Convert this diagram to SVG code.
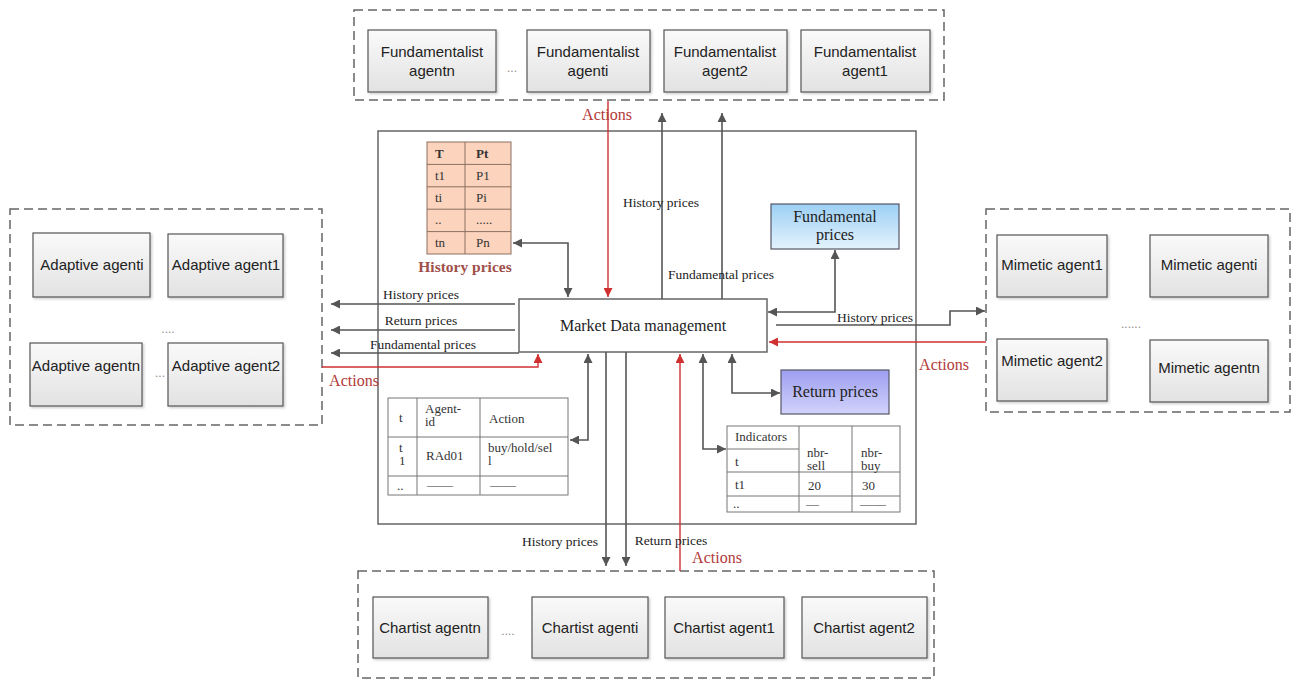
<svg xmlns="http://www.w3.org/2000/svg" width="1292" height="680" viewBox="0 0 1292 680">
<style>
.grp{fill:none;stroke:#666;stroke-width:1.5;stroke-dasharray:9,5}
.agent{fill:url(#ag);stroke:#555;stroke-width:1.2;filter:url(#sh)}
.at{font-family:"Liberation Sans",Arial,sans-serif;font-size:15px;fill:#222;text-anchor:middle}
.st{font-family:"Liberation Serif","Times New Roman",serif;font-size:13.5px;fill:#222;text-anchor:middle}
.tt{font-family:"Liberation Serif","Times New Roman",serif;font-size:13px;fill:#333}
.red{font-family:"Liberation Serif","Times New Roman",serif;font-size:16px;fill:#b23a3a;text-anchor:middle}
.dots{font-family:"Liberation Sans",Arial,sans-serif;font-size:12px;fill:#888;text-anchor:middle}
.c{fill:none;stroke:#555;stroke-width:1.6}
.cr{fill:none;stroke:#d03030;stroke-width:1.4}
.tbl{stroke:#777;stroke-width:1}
.bx{font-family:"Liberation Serif","Times New Roman",serif;font-size:16px;fill:#222;text-anchor:middle}
</style>
<defs>
<linearGradient id="ag" x1="0" y1="0" x2="0" y2="1"><stop offset="0" stop-color="#fafafa"/><stop offset="1" stop-color="#e2e2e2"/></linearGradient>
<linearGradient id="fp" x1="0" y1="0" x2="0" y2="1"><stop offset="0" stop-color="#9ccff5"/><stop offset="1" stop-color="#e4f3fd"/></linearGradient>
<linearGradient id="rp" x1="0" y1="0" x2="0" y2="1"><stop offset="0" stop-color="#9d9ef0"/><stop offset="1" stop-color="#d2d3fb"/></linearGradient>
<filter id="sh" x="-10%" y="-10%" width="130%" height="130%"><feDropShadow dx="1.5" dy="1.5" stdDeviation="1" flood-color="#000" flood-opacity="0.2"/></filter>
<marker id="ah" viewBox="0 0 10 10" refX="10" refY="5" markerWidth="11" markerHeight="9" markerUnits="userSpaceOnUse" orient="auto-start-reverse"><path d="M0,0 L10,5 L0,10 z" fill="#555"/></marker>
<marker id="ahr" viewBox="0 0 10 10" refX="10" refY="5" markerWidth="11" markerHeight="9" markerUnits="userSpaceOnUse" orient="auto-start-reverse"><path d="M0,0 L10,5 L0,10 z" fill="#d03030"/></marker>
</defs>
<rect width="1292" height="680" fill="#fff"/>

<g id="market-system">
<rect x="378" y="131" width="538" height="393" fill="none" stroke="#666" stroke-width="1.5"/>
</g>

<g id="fundamentalist-group">
<rect class="grp" x="354" y="10" width="590" height="90"/>
<g id="fund-agentn"><rect class="agent" x="368" y="30" width="128" height="62"/><text class="at" x="432" y="57">Fundamentalist</text><text class="at" x="432" y="76">agentn</text></g>
<text class="dots" x="512" y="72">...</text>
<g id="fund-agenti"><rect class="agent" x="527" y="30" width="123" height="62"/><text class="at" x="588" y="57">Fundamentalist</text><text class="at" x="588" y="76">agenti</text></g>
<g id="fund-agent2"><rect class="agent" x="664" y="30" width="123" height="62"/><text class="at" x="725" y="57">Fundamentalist</text><text class="at" x="725" y="76">agent2</text></g>
<g id="fund-agent1"><rect class="agent" x="801" y="30" width="129" height="62"/><text class="at" x="865" y="57">Fundamentalist</text><text class="at" x="865" y="76">agent1</text></g>
</g>

<g id="adaptive-group">
<rect class="grp" x="10" y="209" width="312" height="216"/>
<g id="adaptive-agenti"><rect class="agent" x="33" y="233" width="117" height="64"/><text class="at" x="92" y="270">Adaptive agenti</text></g>
<g id="adaptive-agent1"><rect class="agent" x="168" y="234" width="115" height="63"/><text class="at" x="226" y="270">Adaptive agent1</text></g>
<text class="dots" x="168" y="333">....</text>
<g id="adaptive-agentn"><rect class="agent" x="30" y="343" width="112" height="63"/><text class="at" x="86" y="371">Adaptive agentn</text></g>
<text class="dots" x="160" y="377">...</text>
<g id="adaptive-agent2"><rect class="agent" x="168" y="343" width="115" height="63"/><text class="at" x="226" y="371">Adaptive agent2</text></g>
</g>

<g id="mimetic-group">
<rect class="grp" x="986" y="209" width="304" height="203"/>
<g id="mimetic-agent1"><rect class="agent" x="997" y="235" width="110" height="62"/><text class="at" x="1052" y="270">Mimetic agent1</text></g>
<g id="mimetic-agenti"><rect class="agent" x="1150" y="235" width="118" height="62"/><text class="at" x="1209" y="270">Mimetic agenti</text></g>
<text class="dots" x="1131" y="328">......</text>
<g id="mimetic-agent2"><rect class="agent" x="997" y="339" width="110" height="62"/><text class="at" x="1052" y="366">Mimetic agent2</text></g>
<g id="mimetic-agentn"><rect class="agent" x="1150" y="340" width="118" height="62"/><text class="at" x="1209" y="373">Mimetic agentn</text></g>
</g>

<g id="chartist-group">
<rect class="grp" x="358" y="571" width="576" height="107"/>
<g id="chartist-agentn"><rect class="agent" x="373" y="597" width="115" height="61"/><text class="at" x="430" y="633">Chartist agentn</text></g>
<text class="dots" x="508" y="635">....</text>
<g id="chartist-agenti"><rect class="agent" x="532" y="597" width="116" height="61"/><text class="at" x="590" y="633">Chartist agenti</text></g>
<g id="chartist-agent1"><rect class="agent" x="665" y="597" width="119" height="61"/><text class="at" x="724" y="633">Chartist agent1</text></g>
<g id="chartist-agent2"><rect class="agent" x="802" y="597" width="125" height="61"/><text class="at" x="864" y="633">Chartist agent2</text></g>
</g>

<g id="market-data-management">
<rect x="519" y="299" width="248" height="53" fill="#fff" stroke="#666" stroke-width="1.5"/>
<text class="bx" x="643" y="331">Market Data management</text>
</g>

<g id="history-prices-table">
<rect x="427" y="142" width="84" height="112" fill="#fcd3bd" stroke="#8a7060" stroke-width="1"/>
<g stroke="#8a7060" stroke-width="1">
<line x1="465" y1="142" x2="465" y2="254"/>
<line x1="427" y1="164.4" x2="511" y2="164.4"/>
<line x1="427" y1="186.8" x2="511" y2="186.8"/>
<line x1="427" y1="209.2" x2="511" y2="209.2"/>
<line x1="427" y1="231.6" x2="511" y2="231.6"/>
</g>
<text class="tt" x="435" y="158" font-weight="bold">T</text><text class="tt" x="476" y="158" font-weight="bold">Pt</text>
<text class="tt" x="435" y="180">t1</text><text class="tt" x="476" y="180">P1</text>
<text class="tt" x="435" y="202">ti</text><text class="tt" x="476" y="202">Pi</text>
<text class="tt" x="435" y="224">..</text><text class="tt" x="476" y="224" font-size="10">.....</text>
<text class="tt" x="435" y="247">tn</text><text class="tt" x="476" y="247">Pn</text>
<text x="465" y="272" font-family="Liberation Serif, Times New Roman, serif" font-size="15.5" font-weight="bold" fill="#a0504a" text-anchor="middle">History prices</text>
</g>

<g id="fundamental-prices">
<rect x="771" y="204" width="128" height="45" fill="url(#fp)" stroke="#556" stroke-width="1.2"/>
<text class="bx" x="835" y="222">Fundamental</text>
<text class="bx" x="835" y="240">prices</text>
</g>

<g id="return-prices">
<rect x="781" y="370" width="108" height="44" fill="url(#rp)" stroke="#556" stroke-width="1.2"/>
<text class="bx" x="835" y="397">Return prices</text>
</g>

<g id="agent-actions-table">
<rect x="388" y="398" width="180" height="97" fill="#fff" class="tbl"/>
<g class="tbl">
<line x1="417" y1="398" x2="417" y2="495"/>
<line x1="480" y1="398" x2="480" y2="495"/>
<line x1="388" y1="437" x2="568" y2="437"/>
<line x1="388" y1="476" x2="568" y2="476"/>
</g>
<text class="tt" x="399" y="422">t</text>
<text class="tt" x="425" y="413">Agent-</text><text class="tt" x="425" y="426">id</text>
<text class="tt" x="489" y="423">Action</text>
<text class="tt" x="399" y="452">t</text><text class="tt" x="399" y="465">1</text>
<text class="tt" x="426" y="460">RAd01</text>
<text class="tt" x="488" y="452" font-size="12">buy/hold/sel</text><text class="tt" x="488" y="465">l</text>
<text class="tt" x="397" y="490" font-size="9">..</text><text class="tt" x="427" y="489" font-size="9">——</text><text class="tt" x="490" y="489" font-size="9">——</text>
</g>

<g id="indicators-table">
<rect x="727" y="426" width="173" height="86" fill="#fff" class="tbl"/>
<g class="tbl">
<line x1="799" y1="426" x2="799" y2="512"/>
<line x1="852" y1="426" x2="852" y2="512"/>
<line x1="727" y1="449" x2="799" y2="449"/>
<line x1="727" y1="472" x2="900" y2="472"/>
<line x1="727" y1="496" x2="900" y2="496"/>
</g>
<text class="tt" x="735" y="441" font-size="10">Indicators</text>
<text class="tt" x="735" y="466">t</text>
<text class="tt" x="807" y="457" font-size="11">nbr-</text><text class="tt" x="807" y="470" font-size="11">sell</text>
<text class="tt" x="861" y="457" font-size="11">nbr-</text><text class="tt" x="861" y="470" font-size="11">buy</text>
<text class="tt" x="735" y="489">t1</text>
<text class="tt" x="808" y="490" font-size="10">20</text><text class="tt" x="862" y="490" font-size="10">30</text>
<text class="tt" x="733" y="508" font-size="8">..</text><text class="tt" x="806" y="508" font-size="8">—</text><text class="tt" x="860" y="508" font-size="8">——</text>
</g>

<g id="connectors">
<path class="cr" d="M608,101 V297" marker-end="url(#ahr)"/>
<path class="c" d="M662,299 V113" marker-end="url(#ah)"/>
<path class="c" d="M722,299 V113" marker-end="url(#ah)"/>
<path class="c" d="M513,243 H568 V297" marker-start="url(#ah)" marker-end="url(#ah)"/>
<path class="c" d="M768,312 H835 V250" marker-start="url(#ah)" marker-end="url(#ah)"/>
<path class="c" d="M776,325 H950 V311 H985" marker-end="url(#ah)"/>
<path class="cr" d="M986,342 H769" marker-end="url(#ahr)"/>
<path class="c" d="M515,304 H331" marker-end="url(#ah)"/>
<path class="c" d="M515,330 H331" marker-end="url(#ah)"/>
<path class="c" d="M519,353 H331" marker-end="url(#ah)"/>
<path class="cr" d="M322,367 H538 V354" marker-end="url(#ahr)"/>
<path class="c" d="M588,354 V440 H570" marker-start="url(#ah)" marker-end="url(#ah)"/>
<path class="c" d="M606,352 V566" marker-end="url(#ah)"/>
<path class="c" d="M626,352 V566" marker-end="url(#ah)"/>
<path class="cr" d="M680,571 V354" marker-end="url(#ahr)"/>
<path class="c" d="M703,354 V449 H726" marker-start="url(#ah)" marker-end="url(#ah)"/>
<path class="c" d="M732,354 V393 H780" marker-start="url(#ah)" marker-end="url(#ah)"/>
</g>

<g id="labels">
<text class="red" x="607" y="120">Actions</text>
<text class="st" x="661" y="207">History prices</text>
<text class="st" x="721" y="279">Fundamental prices</text>
<text class="st" x="421" y="299">History prices</text>
<text class="st" x="421" y="325">Return prices</text>
<text class="st" x="423" y="349">Fundamental  prices</text>
<text class="red" x="354" y="386">Actions</text>
<text class="st" x="875" y="322">History prices</text>
<text class="red" x="944" y="370">Actions</text>
<text class="st" x="560" y="546">History prices</text>
<text class="st" x="671" y="545">Return prices</text>
<text class="red" x="717" y="563">Actions</text>
</g>
</svg>
